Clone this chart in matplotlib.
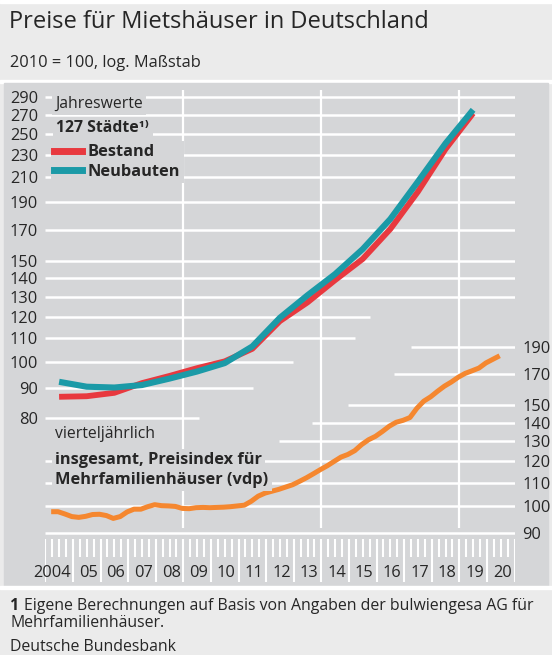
import numpy as np
import matplotlib
matplotlib.use("Agg")
import matplotlib.pyplot as plt
import matplotlib.ticker as mticker
from matplotlib.lines import Line2D
from matplotlib.patches import Rectangle

plt.rcParams['font.family'] = ['Open Sans', 'DejaVu Sans']

# Jahreswerte, 127 Städte (2010 = 100)
jahre = list(range(2004, 2020))
bestand = [87.0, 87.2, 88.4, 91.9, 94.6, 97.6, 100.3, 105.5, 117.9, 127.1, 139.0, 151.3, 170.6, 198.2, 235.2, 271.6]
neubauten = [92.4, 90.6, 90.3, 91.2, 93.6, 96.3, 99.6, 106.5, 119.5, 130.8, 142.4, 157.4, 177.6, 206.4, 240.6, 275.4]

# vierteljährlich, vdp-Index Mehrfamilienhäuser, 2004 Q1 bis 2020 Q2
vdp = [97.9, 97.9, 97.0, 96.0, 95.7, 96.1, 96.8, 96.9, 96.4, 95.3, 96.0, 97.8,
       98.9, 98.9, 99.9, 100.7, 100.3, 100.2, 100.0, 99.2, 99.1, 99.5, 99.6, 99.5,
       99.6, 99.7, 99.9, 100.2, 100.5, 102.1, 104.2, 105.5, 106.3, 107.1, 108.1, 109.1,
       110.6, 112.2, 114.0, 115.9, 117.7, 119.8, 121.9, 123.2, 125.1, 128.2, 130.7, 132.5,
       135.1, 138.0, 140.2, 141.3, 142.9, 148.3, 152.6, 155.3, 158.8, 162.1, 164.8, 168.0,
       170.6, 172.4, 174.3, 177.9, 180.5, 183.1]

ticks_links = [80, 90, 100, 110, 120, 130, 140, 150, 170, 190, 210, 230, 250, 270, 290]
ticks_rechts = [90, 100, 110, 120, 130, 140, 150, 170, 190]
jahr_labels = ['2004', '05', '06', '07', '08', '09', '10', '11', '12', '13', '14',
               '15', '16', '17', '18', '19', '20']

# Farben
HG = '#d5d6d8'
HELL = '#ebebeb'
ROT = '#e8393f'
TUERKIS = '#1b9aa7'
ORANGE = '#f5872f'
TEXT = '#262626'

W, H = 552, 655
fig = plt.figure(figsize=(W / 100, H / 100), dpi=100, facecolor=HELL)


def box(x0, y0, x1, y1, farbe):
    fig.patches.append(Rectangle((x0 / W, 1 - y1 / H), (x1 - x0) / W, (y1 - y0) / H,
                                 transform=fig.transFigure, color=farbe, zorder=-5))


box(0, 0, W, 3, 'white')
box(0, 80, W, 83, 'white')
box(4, 83, 548, 586, HG)
box(0, 586, W, 589, 'white')

# eine log. Skala, rechte Achse um Faktor verschoben
ylo, yhi = 40.7, 300.6
faktor = 1.785
ax = fig.add_axes([45.3 / W, (H - 586) / H, (514.5 - 45.3) / W, (586 - 88) / H])
ax.set_facecolor('none')
ax.set_yscale('log')
ax.set_xlim(2004, 2021)
ax.set_ylim(ylo, yhi)
ax2 = ax.twinx()
ax2.set_yscale('log')
ax2.set_ylim(ylo * faktor, yhi * faktor)

for a in (ax, ax2):
    for s in a.spines.values():
        s.set_visible(False)
    a.set_xticks([])

ax.set_yticks(ticks_links)
ax.set_yticklabels([str(t) for t in ticks_links])
ax.tick_params(axis='y', length=0, pad=5.2, labelsize=11.8, labelcolor=TEXT)
ax2.set_yticks(ticks_rechts)
ax2.set_yticklabels([str(t) for t in ticks_rechts])
ax2.tick_params(axis='y', length=0, pad=5.4, labelsize=11.8, labelcolor=TEXT)
ax.yaxis.set_minor_locator(mticker.NullLocator())
ax2.yaxis.set_minor_locator(mticker.NullLocator())

# Gitterlinien oben (links) – teils verkürzt
ende_oben = {80: 2009.57, 90: 2011.54, 100: 2012.99, 110: 2015.21, 120: 2015.76}
for t in ticks_links:
    ax.hlines(t, 2004, ende_oben.get(t, 2021), color='white', lw=1.8, zorder=1)
# Gitterlinien unten (rechts)
start_unten = {130: 2012.48, 140: 2013.65, 150: 2014.96, 170: 2016.63, 190: 2017.25}
for t in ticks_rechts:
    ax2.hlines(t, start_unten.get(t, 2004), 2021, color='white', lw=1.8, zorder=1)

xt = ax.get_xaxis_transform()
ax.vlines([2009, 2014, 2019], 0.1165, 0.996, transform=xt, color='white', lw=1.6, zorder=1)
ax.vlines(np.arange(2004, 2021.01, 0.25), 0.0582, 0.0944, transform=xt, color='white', lw=1.5)
ax.vlines(np.arange(2004, 2022), 0.008, 0.0944, transform=xt, color='white', lw=1.5)

for i, lab in enumerate(jahr_labels):
    if i == 0:
        ax.text(2004.92, 0.027, lab, transform=xt, ha='right', va='center', fontsize=11.8, color=TEXT)
    else:
        ax.text(2004 + i + 0.56, 0.027, lab, transform=xt, ha='center', va='center', fontsize=11.8, color=TEXT)

# Linien
x_jahre = [j + 0.5 for j in jahre]
ax.plot(x_jahre, bestand, color=ROT, lw=4.2, solid_capstyle='butt', zorder=3)
ax.plot(x_jahre, neubauten, color=TUERKIS, lw=4.4, solid_capstyle='butt', zorder=4)
x_q = [2004 + (i + 0.85) / 4 for i in range(len(vdp))]
ax2.plot(x_q, vdp, color=ORANGE, lw=3.6, solid_capstyle='butt', zorder=3)

# Legende oben
hg_box = dict(facecolor=HG, edgecolor='none', pad=2.5)
fig.text(55 / W, 1 - 104 / H, 'Jahreswerte', fontsize=11.3, color=TEXT, va='center', bbox=hg_box)
fig.text(56 / W, 1 - 128 / H, '127 Städte¹⁾', fontsize=11.3, fontweight='bold', color=TEXT,
         va='center', bbox=hg_box)
leg = ax.legend([Line2D([], [], color=ROT, lw=5), Line2D([], [], color=TUERKIS, lw=5)],
                ['Bestand', 'Neubauten'], loc='upper left',
                bbox_to_anchor=(51 / W, 1 - 141 / H), bbox_transform=fig.transFigure,
                prop={'weight': 'bold', 'size': 11.8}, handlelength=1.7,
                handletextpad=0.35, labelspacing=0.2, borderpad=0.2, borderaxespad=0,
                frameon=True, facecolor=HG, edgecolor='none', framealpha=1, fancybox=False)
for t in leg.get_texts():
    t.set_color(TEXT)

# Beschriftung unten
fig.text(55 / W, 1 - 434 / H, 'vierteljährlich', fontsize=11.3, color=TEXT, va='center', bbox=hg_box)
fig.text(55 / W, 1 - 460 / H, 'insgesamt, Preisindex für', fontsize=11.8, fontweight='bold',
         color=TEXT, va='center', bbox=hg_box)
fig.text(55 / W, 1 - 480 / H, 'Mehrfamilienhäuser (vdp)', fontsize=11.8, fontweight='bold',
         color=TEXT, va='center', bbox=hg_box)

# Titel
fig.text(9 / W, 1 - 22 / H, 'Preise für Mietshäuser in Deutschland', fontsize=17,
         color=TEXT, va='center')
fig.text(10 / W, 1 - 63 / H, '2010 = 100, log. Maßstab', fontsize=11.8, color=TEXT, va='center')

# Fußnote
fig.text(10 / W, 1 - 606 / H, '1', fontsize=11.4, fontweight='bold', color=TEXT, va='center')
fig.text(24 / W, 1 - 606 / H, 'Eigene Berechnungen auf Basis von Angaben der bulwiengesa AG für',
         fontsize=11.4, color=TEXT, va='center')
fig.text(10 / W, 1 - 623 / H, 'Mehrfamilienhäuser.', fontsize=11.4, color=TEXT, va='center')
fig.text(10 / W, 1 - 647 / H, 'Deutsche Bundesbank', fontsize=11.4, color=TEXT, va='center')

fig.savefig('out.png', dpi=100, facecolor=HELL)
